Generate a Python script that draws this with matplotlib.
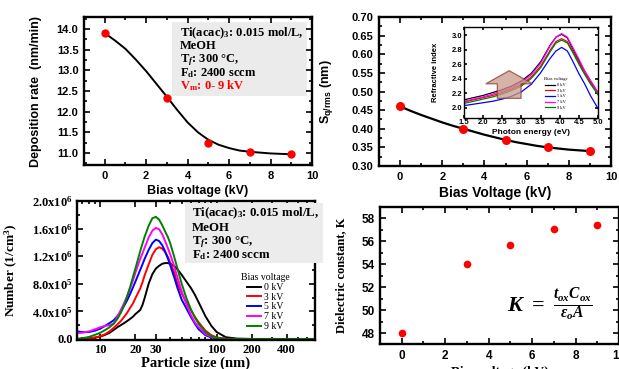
import numpy as np
import matplotlib
matplotlib.use("Agg")
import matplotlib.pyplot as plt
from matplotlib.patches import Rectangle, FancyArrow
from matplotlib.ticker import MultipleLocator, FixedLocator, FixedFormatter, NullFormatter, LogLocator

# ---- data ----
bias_kv = [0, 3, 5, 7, 9]
dep_rate = [13.90, 12.32, 11.25, 11.02, 10.97]
fit_x = [0, 0.5, 1, 1.5, 2, 2.5, 3, 3.5, 4, 4.5, 5, 5.5, 6, 6.5, 7, 7.5, 8, 8.5, 9]
dep_fit = [13.90, 13.72, 13.52, 13.26, 12.98, 12.67, 12.36, 12.04, 11.74, 11.50,
           11.32, 11.20, 11.12, 11.06, 11.03, 11.01, 10.99, 10.98, 10.97]

roughness = [0.46, 0.40, 0.37, 0.35, 0.34]
rough_fit = [0.460, 0.448, 0.437, 0.427, 0.417, 0.408, 0.400, 0.392, 0.384, 0.377,
             0.370, 0.364, 0.359, 0.354, 0.350, 0.347, 0.344, 0.342, 0.340]

photon_ev = [1.5, 1.75, 2.0, 2.25, 2.5, 2.75, 3.0, 3.25, 3.5, 3.75, 3.9, 4.05,
             4.2, 4.35, 4.5, 4.65, 4.8, 5.0]
n_0kv = [2.11, 2.14, 2.17, 2.21, 2.25, 2.30, 2.37, 2.47, 2.63, 2.86, 2.97, 3.01,
         2.96, 2.80, 2.65, 2.50, 2.37, 2.21]
n_3kv = [2.08, 2.11, 2.14, 2.17, 2.21, 2.26, 2.32, 2.42, 2.57, 2.79, 2.91, 2.95,
         2.91, 2.77, 2.62, 2.48, 2.35, 2.20]
n_5kv = [2.03, 2.05, 2.07, 2.09, 2.12, 2.16, 2.22, 2.32, 2.48, 2.68, 2.78, 2.83,
         2.78, 2.63, 2.47, 2.33, 2.17, 1.99]
n_7kv = [2.09, 2.12, 2.15, 2.19, 2.23, 2.28, 2.35, 2.45, 2.61, 2.85, 2.97, 3.02,
         2.97, 2.82, 2.67, 2.51, 2.38, 2.21]
n_9kv = [2.06, 2.09, 2.12, 2.15, 2.19, 2.24, 2.30, 2.40, 2.55, 2.77, 2.89, 2.93,
         2.89, 2.75, 2.60, 2.46, 2.33, 2.18]

size_nm = [6.3, 7, 8, 9, 10, 11, 12, 13, 14, 15, 16, 17, 18, 19, 20, 22, 23, 24, 26, 28,
           30, 32, 34, 36, 38, 40, 43, 46, 50, 55, 60, 65, 70, 80, 90, 100, 120, 150,
           200, 300, 700]
# number concentration in units of 1e5 /cm3
num_0kv = [0.0, 0.05, 0.1, 0.2, 0.35, 0.6, 0.9, 1.3, 1.7, 2.0, 2.3, 2.6, 2.9, 3.2, 3.6,
           4.2, 4.9, 5.9, 8.0, 9.4, 10.2, 10.6, 10.9, 11.0, 11.0, 10.9, 10.6, 10.1, 9.3,
           8.3, 7.4, 6.4, 5.3, 3.3, 1.9, 1.0, 0.25, 0.05, 0.0, 0.0, 0.0]
num_3kv = [0.0, 0.0, 0.05, 0.2, 0.4, 0.7, 1.1, 1.6, 2.1, 2.6, 3.2, 3.8, 4.5, 5.1, 5.9,
           7.3, 8.2, 9.2, 10.8, 12.2, 13.0, 13.3, 13.1, 12.6, 11.9, 11.0, 9.7, 8.0, 6.6,
           5.3, 4.2, 3.2, 2.4, 1.2, 0.55, 0.22, 0.04, 0.0, 0.0, 0.0, 0.0]
num_5kv = [1.1, 1.0, 1.0, 1.2, 1.5, 1.9, 2.3, 2.7, 3.3, 4.0, 4.8, 5.6, 6.5, 7.4, 8.3,
           10.0, 10.8, 11.6, 12.9, 13.9, 14.4, 14.2, 13.6, 12.7, 11.7, 10.6, 9.0, 7.4,
           5.7, 4.4, 3.2, 2.2, 1.4, 0.55, 0.2, 0.08, 0.0, 0.0, 0.0, 0.0, 0.0]
num_7kv = [0.85, 0.9, 1.1, 1.4, 1.7, 1.9, 2.0, 2.2, 3.2, 4.2, 5.2, 6.2, 7.3, 8.4, 9.6,
           11.6, 12.4, 13.2, 14.7, 15.7, 16.1, 15.9, 15.2, 14.2, 13.2, 12.2, 10.6, 8.9,
           6.9, 5.0, 3.5, 2.4, 1.7, 0.7, 0.3, 0.1, 0.0, 0.0, 0.0, 0.0, 0.0]
num_9kv = [0.0, 0.1, 0.3, 0.6, 0.9, 1.3, 1.7, 2.2, 2.9, 3.8, 4.9, 6.2, 7.5, 8.9, 10.2,
           12.7, 13.8, 14.8, 16.4, 17.5, 17.7, 17.3, 16.5, 15.6, 14.8, 13.8, 12.0, 10.2,
           8.0, 5.9, 4.3, 3.1, 2.2, 1.0, 0.4, 0.15, 0.0, 0.0, 0.0, 0.0, 0.0]
size_ticks = [10, 20, 30, 100, 200, 400]
num_ticks = [0, 4e5, 8e5, 1.2e6, 1.6e6, 2.0e6]
num_tick_labels = ["0.0", r"4.0x10$^5$", r"8.0x10$^5$", r"1.2x10$^6$", r"1.6x10$^6$", r"2.0x10$^6$"]

dielectric_k = [48.0, 54.0, 55.7, 57.1, 57.4]

volt_labels = ["0 kV", "3 kV", "5 kV", "7 kV", "9 kV"]
volt_colors = ["black", "#ff0000", "#0000ff", "#ff00ff", "#008000"]

plt.rcParams["font.family"] = "Liberation Sans"
plt.rcParams["font.weight"] = "bold"
plt.rcParams["axes.labelweight"] = "bold"
plt.rcParams["mathtext.fontset"] = "custom"
plt.rcParams["mathtext.default"] = "regular"
plt.rcParams["mathtext.it"] = "Liberation Serif:italic:bold"
SERIF = "Liberation Serif"


def style(ax, size, family="Liberation Sans", lw=1.7, maj=4, mino=2, pad=4):
    ax.tick_params(which="both", direction="in", top=True, right=True, width=1.2,
                   labelsize=size, pad=pad)
    ax.tick_params(which="major", length=maj)
    ax.tick_params(which="minor", length=mino)
    for sp in ax.spines.values():
        sp.set_linewidth(lw)
    for lab in ax.get_xticklabels() + ax.get_yticklabels():
        lab.set_family(family)
        lab.set_fontweight("bold")


fig = plt.figure(figsize=(6.19, 3.69), dpi=100)

# ---- top left: deposition rate ----
ax1 = fig.add_axes([0.1357, 0.5528, 0.3683, 0.4011])
ax1.plot(fit_x, dep_fit, color="black", lw=1.4, zorder=2)
ax1.plot(bias_kv, dep_rate, "o", color="#ff0000", ms=6, mec="none", zorder=3)
ax1.set_xlim(-1, 10)
ax1.set_ylim(10.71, 14.29)
ax1.set_xticks([0, 2, 4, 6, 8, 10])
ax1.set_yticks([11.0, 11.5, 12.0, 12.5, 13.0, 13.5, 14.0])
ax1.xaxis.set_minor_locator(MultipleLocator(1))
ax1.yaxis.set_minor_locator(MultipleLocator(0.25))
ax1.yaxis.set_major_formatter(matplotlib.ticker.FormatStrFormatter("%.1f"))
style(ax1, 8)
ax1.set_xlabel("Bias voltage (kV)", fontsize=9)
ax1.set_ylabel("Deposition rate  (nm/min)", fontsize=9)
ax1.xaxis.set_label_coords(0.5, -0.135)
ax1.yaxis.set_label_coords(-0.184, 0.5)
ax1.add_patch(Rectangle((0.386, 0.466), 0.592, 0.5, transform=ax1.transAxes,
                        facecolor="#ebebeb", edgecolor="none", zorder=1))
box1_lines = [r"Ti(acac)$_3$: 0.015 mol/L,", "MeOH", r"T$_{\mathit{f}}$: 300 °C,",
              r"F$_d$: 2400 sccm", r"V$_m$: 0- 9 kV"]
box1_y = [0.89, 0.806, 0.709, 0.623, 0.534]
for txt, yy in zip(box1_lines, box1_y):
    ax1.text(0.421, yy, txt, transform=ax1.transAxes, va="center", family=SERIF,
             fontsize=9, color="#ff0000" if txt.startswith("V") else "black", zorder=4)

# ---- top right: roughness + inset ----
ax2 = fig.add_axes([0.6123, 0.5501, 0.3748, 0.4038])
ax2.plot(fit_x, rough_fit, color="black", lw=1.6, zorder=2)
ax2.plot(bias_kv, roughness, "o", color="#ff0000", ms=6.5, mec="none", zorder=3)
ax2.set_xlim(-1, 10)
ax2.set_ylim(0.30, 0.70)
ax2.set_xticks([0, 2, 4, 6, 8, 10])
ax2.set_yticks(np.arange(0.30, 0.701, 0.05))
ax2.xaxis.set_minor_locator(MultipleLocator(1))
ax2.yaxis.set_minor_locator(MultipleLocator(0.025))
ax2.yaxis.set_major_formatter(matplotlib.ticker.FormatStrFormatter("%.2f"))
style(ax2, 8)
ax2.set_xlabel("Bias Voltage (kV)", fontsize=10)
ax2.set_ylabel(r"S$_{q/rms}$ (nm)", fontsize=9)
ax2.xaxis.set_label_coords(0.5, -0.134)
ax2.yaxis.set_label_coords(-0.19, 0.5)

axi = fig.add_axes([0.7496, 0.6802, 0.2165, 0.2466])
for vals, col, lab in zip([n_0kv, n_3kv, n_5kv, n_7kv, n_9kv], volt_colors, volt_labels):
    axi.plot(photon_ev, vals, color=col, lw=0.9, label=lab)
axi.set_xlim(1.5, 5.0)
axi.set_ylim(1.86, 3.11)
axi.set_xticks(np.arange(1.5, 5.01, 0.5))
axi.set_yticks(np.arange(2.0, 3.01, 0.2))
axi.xaxis.set_major_formatter(matplotlib.ticker.FormatStrFormatter("%.1f"))
axi.yaxis.set_major_formatter(matplotlib.ticker.FormatStrFormatter("%.1f"))
style(axi, 5.5, lw=1.0, maj=2.5, mino=1.2, pad=1)
axi.set_xlabel("Photon energy (eV)", fontsize=6)
axi.set_ylabel("Refractive index", fontsize=5.5)
axi.xaxis.set_label_coords(0.5, -0.12)
axi.yaxis.set_label_coords(-0.19, 0.5)
axi.add_patch(FancyArrow(2.68, 2.13, 0, 0.38, width=0.62, head_width=1.22,
                         head_length=0.18, length_includes_head=True,
                         facecolor="#c9998a", edgecolor="#8b3a2a", alpha=0.75, lw=0.9, zorder=3))
axi.legend(title="Bias voltage", loc="upper left", bbox_to_anchor=(0.57, 0.48),
           frameon=False, prop=dict(family=SERIF, weight="normal", size=3.2),
           title_fontproperties=dict(family=SERIF, weight="normal", size=3.4),
           handlelength=2.4, labelspacing=0.35, handletextpad=0.4, borderpad=0.2)

# ---- bottom left: particle size distribution ----
ax3 = fig.add_axes([0.1244, 0.0786, 0.3845, 0.3767])
for vals, col, lab in zip([num_0kv, num_3kv, num_5kv, num_7kv, num_9kv], volt_colors, volt_labels):
    ax3.plot(size_nm, np.array(vals) * 1e5, color=col, lw=1.4, label=lab)
ax3.set_xscale("log")
ax3.set_xlim(6.3, 700)
ax3.set_ylim(-1.5e4, 2.0e6)
ax3.xaxis.set_major_locator(FixedLocator(size_ticks))
ax3.xaxis.set_major_formatter(FixedFormatter([str(t) for t in size_ticks]))
ax3.xaxis.set_minor_locator(LogLocator(base=10, subs=np.arange(2, 10)))
ax3.xaxis.set_minor_formatter(NullFormatter())
ax3.yaxis.set_major_locator(FixedLocator(num_ticks))
ax3.yaxis.set_major_formatter(FixedFormatter(num_tick_labels))
ax3.yaxis.set_minor_locator(MultipleLocator(2e5))
style(ax3, 9, family=SERIF, pad=3)
ax3.set_xlabel("Particle size (nm)", fontsize=10.5, family=SERIF)
ax3.set_ylabel(r"Number (1/cm$^3$)", fontsize=9.5, family=SERIF)
ax3.xaxis.set_label_coords(0.5, -0.12)
ax3.yaxis.set_label_coords(-0.24, 0.5)
ax3.add_patch(Rectangle((0.454, 0.554), 0.58, 0.43, transform=ax3.transAxes,
                        facecolor="#ececec", edgecolor="none", zorder=3, clip_on=False))
box3_lines = box1_lines[:4]
box3_y = [0.911, 0.803, 0.707, 0.612]
for txt, yy in zip(box3_lines, box3_y):
    ax3.text(0.482, yy, txt, transform=ax3.transAxes, va="center", family=SERIF,
             fontsize=9.3, zorder=4)
ax3.legend(title="Bias voltage", loc="upper left", bbox_to_anchor=(0.66, 0.53),
           frameon=False, prop=dict(family=SERIF, weight="normal", size=7),
           title_fontproperties=dict(family=SERIF, weight="normal", size=7),
           handlelength=1.4, labelspacing=0.08, handletextpad=0.3, borderpad=0.2)

# ---- bottom right: dielectric constant ----
ax4 = fig.add_axes([0.6139, 0.0664, 0.3861, 0.3734])
ax4.plot(bias_kv, dielectric_k, "o", color="#ff0000", ms=5.5, mec="none")
ax4.set_xlim(-1, 10)
ax4.set_ylim(47, 59)
ax4.set_xticks([0, 2, 4, 6, 8, 10])
ax4.set_yticks([48, 50, 52, 54, 56, 58])
ax4.xaxis.set_minor_locator(MultipleLocator(1))
ax4.yaxis.set_minor_locator(MultipleLocator(1))
style(ax4, 8.5)
ax4.set_xlabel("Bias voltage (kV)", fontsize=9.5, family=SERIF)
ax4.set_ylabel("Dielectric constant, K", fontsize=9, family=SERIF)
ax4.xaxis.set_label_coords(0.5, -0.156)
ax4.yaxis.set_label_coords(-0.138, 0.5)
ax4.text(6.8, 50.4, r"$\mathit{K}\ =\ \frac{\mathit{t}_{\mathit{ox}}\mathit{C}_{\mathit{ox}}}{\mathit{\varepsilon}_{\mathit{o}}\mathit{A}}$",
         ha="center", va="center", family=SERIF, fontsize=16)

fig.savefig("out.png", dpi=100)
